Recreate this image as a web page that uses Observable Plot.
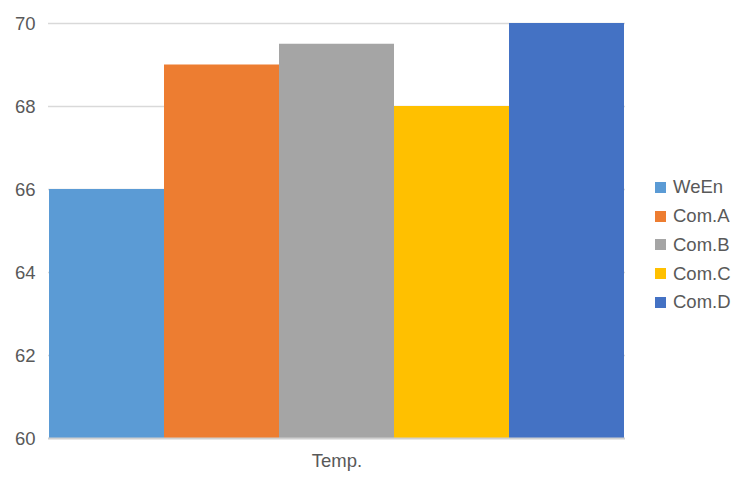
<!DOCTYPE html>
<html>
<head>
<meta charset="utf-8">
<script src="https://cdn.jsdelivr.net/npm/d3@7"></script>
<script src="https://cdn.jsdelivr.net/npm/@observablehq/plot@0.6"></script>
<style>
  html, body { margin: 0; padding: 0; background: #fff; }
  #wrap { position: relative; width: 751px; height: 489px; font-family: "Liberation Sans", Arial, Helvetica, sans-serif; }
  #legend { position: absolute; left: 655px; top: 173px; color: #595959; font-size: 18.5px; }
  .item { display: flex; align-items: center; height: 28.75px; }
  .sw { width: 11px; height: 11px; margin-right: 7px; }
</style>
</head>
<body>
<div id="wrap"></div>
<script>
const series = ["WeEn", "Com.A", "Com.B", "Com.C", "Com.D"];
const values = [66, 69, 69.5, 68, 70];
const colors = ["#5b9bd5", "#ed7d31", "#a5a5a5", "#ffc000", "#4472c4"];
const yTicks = [60, 62, 64, 66, 68, 70];
const category = "Temp.";

const data = series.map((s, i) => ({series: s, value: values[i]}));

const chart = Plot.plot({
  width: 751,
  height: 489,
  marginLeft: 48,
  marginRight: 126,
  marginTop: 23,
  marginBottom: 51,
  style: {fontFamily: "'Liberation Sans', Arial, Helvetica, sans-serif", fontSize: "18.5px", color: "#595959", background: "#fff"},
  x: {type: "band", domain: series, padding: 0, axis: null},
  y: {domain: [60, 70], axis: null},
  color: {domain: series, range: colors},
  marks: [
    Plot.ruleY(yTicks.filter(d => d > 60), {stroke: "#d9d9d9", strokeWidth: 1.3, strokeOpacity: 1}),
    Plot.barY(data, {x: "series", y1: 60, y2: "value", fill: "series"}),
    Plot.ruleY([60], {stroke: "#d0d0d0", strokeWidth: 2, strokeOpacity: 1}),
    Plot.axisY(yTicks, {tickSize: 0, tickPadding: 13, label: null, fontSize: 18.5, fill: "#595959", dy: 1}),
    Plot.text([category], {frameAnchor: "bottom", dy: 28, fontSize: 18.5, fill: "#595959"})
  ]
});
document.getElementById("wrap").appendChild(chart);

const legend = document.createElement("div");
legend.id = "legend";
series.forEach((s, i) => {
  const it = document.createElement("div");
  it.className = "item";
  const sw = document.createElement("span");
  sw.className = "sw";
  sw.style.background = colors[i];
  const t = document.createElement("span");
  t.textContent = s;
  it.appendChild(sw); it.appendChild(t);
  legend.appendChild(it);
});
document.getElementById("wrap").appendChild(legend);
</script>
</body>
</html>
